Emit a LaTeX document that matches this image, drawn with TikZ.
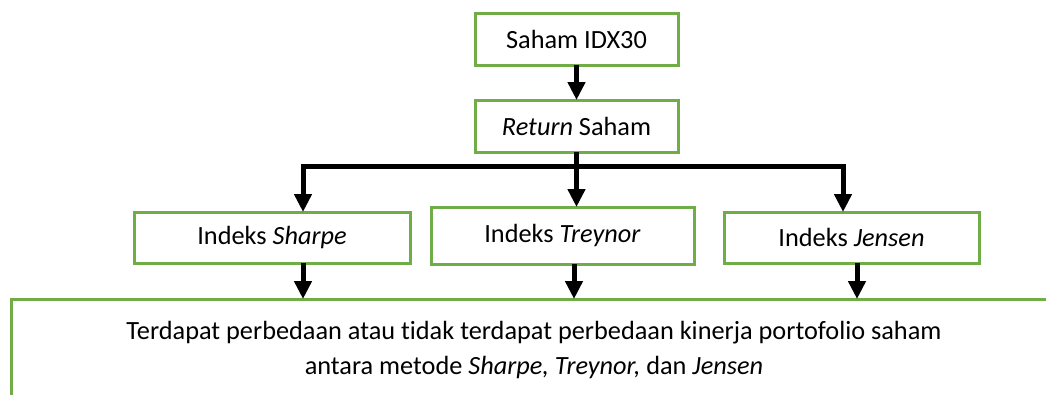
\documentclass[tikz,border=0pt]{standalone}
\usepackage{fontspec}
\setmainfont{Carlito}[Ligatures=NoCommon,Contextuals=NoAlternate]
\usetikzlibrary{arrows.meta}
\definecolor{boxgreen}{HTML}{70AD47}
\begin{document}
\begin{tikzpicture}[x=1pt,y=-1pt,
  box/.style={draw=boxgreen, line width=3pt, inner sep=0pt, outer sep=0pt, align=center,
    font=\fontsize{26.3}{35}\selectfont},
  conn/.style={line width=5pt, line join=miter, -{Triangle[length=18pt,width=17pt]}},
  txt/.style={inner sep=0pt, align=center, font=\fontsize{26.3}{35}\selectfont}]
\clip (0,0) rectangle (1046,394);
\fill[white] (0,0) rectangle (1046,394);
\node[box, minimum width=203pt, minimum height=52pt] (b1) at (576.5,39) {Saham IDX30};
\node[box, minimum width=203pt, minimum height=52pt] (b2) at (576.5,126) {\textit{Return} Saham};
\node[box, minimum width=276pt, minimum height=51pt] (sharpe) at (272,237.5) {Indeks \textit{Sharpe}};
\node[box, minimum width=263pt, minimum height=57pt] (treynor) at (562.5,235.5) {Indeks \textit{Treynor}};
\node[box, minimum width=255pt, minimum height=51pt] (jensen) at (851.5,237.5) {Indeks \textit{Jensen}};
\node[box, minimum width=1059pt, minimum height=131pt] (bottom) at (540.5,364.5) {};
\node[txt] (concl) at (534,350) {Terdapat perbedaan atau tidak terdapat perbedaan kinerja portofolio saham\\antara metode \textit{Sharpe, Treynor,} dan \textit{Jensen}};
\draw[conn] (b1.south) -- (b2.north);
\draw[conn] (b2.south) -- (b2.south |- treynor.north);
\draw[conn] (b2.south) ++(0,14) -| ([xshift=31pt]sharpe.north);
\draw[conn] (b2.south) ++(0,14) -| ([xshift=-8.5pt]jensen.north);
\draw[conn] ([xshift=31pt]sharpe.south) -- ([xshift=31pt]sharpe.south |- bottom.north);
\draw[conn] ([xshift=11.5pt]treynor.south) -- ([xshift=11.5pt]treynor.south |- bottom.north);
\draw[conn] ([xshift=5.5pt]jensen.south) -- ([xshift=5.5pt]jensen.south |- bottom.north);
\end{tikzpicture}
\end{document}
